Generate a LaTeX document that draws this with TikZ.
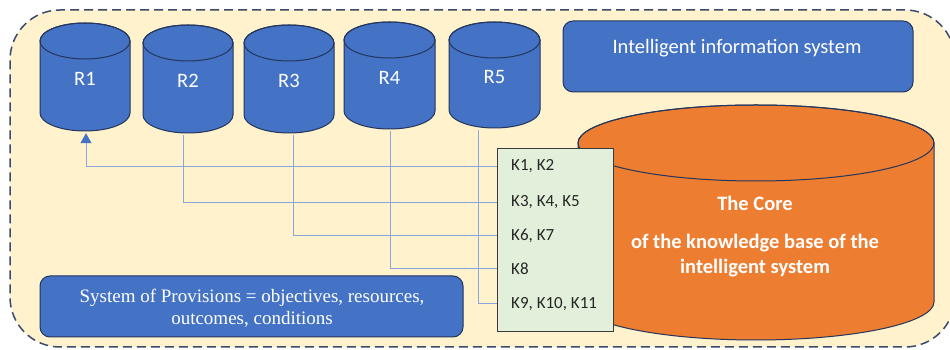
\documentclass[tikz,border=0pt]{standalone}
\usepackage{fontspec}
\setmainfont{Carlito}
\newfontfamily\timesfont{Liberation Serif}
\usetikzlibrary{arrows.meta,calc}
\definecolor{bgfill}{HTML}{FFF2CC}
\definecolor{dashcol}{HTML}{3B4A6B}
\definecolor{boxblue}{HTML}{4472C4}
\definecolor{navy}{HTML}{24365E}
\definecolor{coreorange}{HTML}{ED7D31}
\definecolor{kfill}{HTML}{E2EFDA}
\definecolor{kborder}{HTML}{3A3A3A}
\definecolor{conncol}{HTML}{8AA6DA}
\tikzset{
  cylline/.style={draw=navy,line width=1pt},
  rlabel/.style={inner sep=0pt,text=white,font=\fontsize{20.5}{24}\selectfont},
  bluebox/.style={draw=navy,line width=1pt,fill=boxblue,rounded corners=10pt,inner sep=0pt},
  ktext/.style={inner sep=0pt,anchor=west,text=black!85,font=\fontsize{17}{20}\selectfont},
  conn/.style={draw=conncol,line width=1pt},
  coretext/.style={text=white,align=center,inner sep=0pt,font=\bfseries\fontsize{20.5}{25}\selectfont}
}
% #1 name, #2 cx, #3 rx, #4 Y top ellipse centre, #5 Y bottom ellipse centre, #6 ry, #7 fill, #8 text
\newcommand{\mycyl}[8]{%
  \path[cylline,fill=#7] ({#2-#3},#4) -- ({#2-#3},#5)
     arc[start angle=180,end angle=360,x radius=#3,y radius=#6]
     -- ({#2+#3},#4)
     arc[start angle=0,end angle=180,x radius=#3,y radius=#6] -- cycle;
  \draw[cylline] (#2,#4) ellipse[x radius=#3,y radius=#6];
  \node[rlabel,minimum width={2*#3},minimum height={#4-#5+2*#6}] (#1) at (#2,{(#4+#5)/2-2}) {#8};
}
\begin{document}
\begin{tikzpicture}[x=1pt,y=1pt]
\useasboundingbox (0,0) rectangle (950,350);
\begin{scope}
\clip (0,0) rectangle (950,350);
\node[draw=dashcol,fill=bgfill,line width=1.5pt,dash pattern=on 9pt off 5pt,
  rounded corners=50pt,minimum width=945pt,minimum height=337pt,inner sep=0pt]
  (outer) at (482.5,171.5) {};
\end{scope}

% resource cylinders
\mycyl{R1}{85}{45}{309}{237}{18}{boxblue}{R1}
\mycyl{R2}{188}{45}{307}{235}{18}{boxblue}{R2}
\mycyl{R3}{289}{45}{307}{235}{18}{boxblue}{R3}
\mycyl{R4}{389.5}{45.5}{310}{239}{18}{boxblue}{R4}
\mycyl{R5}{494.5}{45.5}{310}{240}{18}{boxblue}{R5}

% intelligent information system
\node[bluebox,minimum width=350pt,minimum height=71pt] (iis) at (738,293.5) {};
\node[rlabel] (iistext) at (737,302) {Intelligent information system};

% core cylinder
\path[cylline,fill=coreorange] (578,207) -- (578,48)
   arc[start angle=180,end angle=360,x radius=178,y radius=38]
   -- (934,207)
   arc[start angle=0,end angle=180,x radius=178,y radius=38] -- cycle;
\draw[cylline] (756,207) ellipse[x radius=178,y radius=38];
\node[coretext] (coretitle) at (755,147) {The Core};
\node[coretext] (corebody) at (755,94.5) {of the knowledge base of the\\intelligent system};

% provisions box
\node[bluebox,minimum width=423pt,minimum height=61pt] (prov) at (251.5,43.5) {};
\node[text=white,align=center,inner sep=0pt,font=\timesfont\fontsize{19}{22}\selectfont]
  (provtext) at (252,42) {System of Provisions = objectives, resources,\\outcomes, conditions};

% K box
\node[draw=kborder,fill=kfill,line width=0.8pt,minimum width=116pt,minimum height=183pt,inner sep=0pt]
  (K) at (555,110.5) {};
\node[ktext] (k1) at (511,183.5) {K1, K2};
\node[ktext] (k2) at (511,147.5) {K3, K4, K5};
\node[ktext] (k3) at (511,114) {K6, K7};
\node[ktext] (k4) at (511,81) {K8};
\node[ktext] (k5) at (511,46) {K9, K10, K11};

% connectors
\draw[conn,-{Triangle[width=11pt,length=10pt,color=boxblue]}] (K.west |- k1) -| ([xshift=1pt]R1.south);
\draw[conn] ([xshift=-5pt]R2.south) |- (K.west |- k2);
\draw[conn] ([xshift=4pt]R3.south) |- (K.west |- k3);
\draw[conn] ([xshift=0.5pt]R4.south) |- (K.west |- k4);
\draw[conn] ([xshift=-16.5pt]R5.south) |- (K.west |- k5);
\end{tikzpicture}
\end{document}
